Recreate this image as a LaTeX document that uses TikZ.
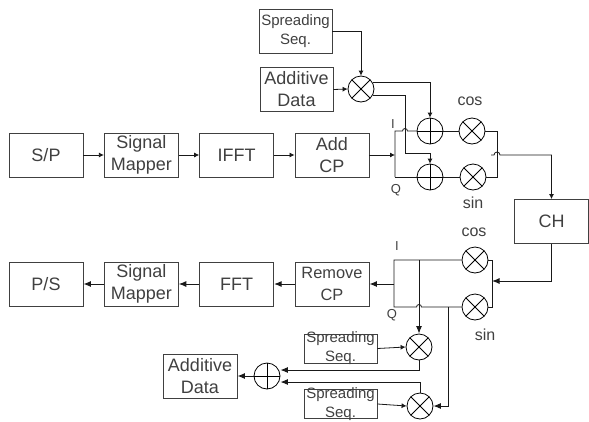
\documentclass[tikz,border=0pt]{standalone}
\usepackage{fontspec}
\setmainfont{Liberation Sans}
\usetikzlibrary{arrows.meta}
\begin{document}
\begin{tikzpicture}[x=1pt,y=-1pt,node distance=95.33pt,line width=0.8pt,color=black!90]
 \tikzstyle{block}=[draw=black!75, text=black!75, line width=0.9pt, minimum width=74pt, minimum height=44pt, inner sep=0pt, align=center, font={\fontsize{18}{22}\selectfont}]
 \tikzstyle{spread}=[block, minimum width=73pt, font={\fontsize{15}{19}\selectfont}]
 \tikzstyle{thin box}=[spread, minimum height=29pt, inner ysep=-5pt]
 \tikzstyle{mult}=[draw=black, circle, minimum size=26pt, inner sep=0pt, path picture={\draw[black] (path picture bounding box.north west) -- (path picture bounding box.south east) (path picture bounding box.north east) -- (path picture bounding box.south west);}]
 \tikzstyle{adder}=[draw=black, circle, minimum size=26pt, inner sep=0pt, path picture={\draw[black] (path picture bounding box.north) -- (path picture bounding box.south) (path picture bounding box.west) -- (path picture bounding box.east);}]
 \tikzstyle{txt}=[text=black!75, inner sep=0pt, font={\fontsize{16}{19}\selectfont}]
 \tikzstyle{small}=[txt, font={\fontsize{13}{15}\selectfont}]
 \tikzstyle{arr}=[-{Latex[length=5pt,width=5pt]}]
 \tikzstyle{bigarr}=[-{Latex[length=7.5pt,width=6pt]}, line width=1pt]
 \useasboundingbox (0,0) rectangle (589,421);

 \node[block] (sp) at (46,155) {S/P};
 \node[block] (map1) [right of=sp] {Signal\\Mapper};
 \node[block] (ifft) [right of=map1] {IFFT};
 \node[block] (addcp) [right of=ifft] {Add\\CP};
 \node[spread] (ss1) at (295.5,31) {Spreading\\Seq.};
 \node[block, minimum width=73pt] (ad1) at (296.5,89.5) {Additive\\Data};
 \node[mult] (m1) at (361,89) {};
 \node[adder] (pi) at (430,131) {};
 \node[adder] (pq) at (430,177) {};
 \node[mult] (mc) at (472,131) {};
 \node[mult] (ms) at (473,177) {};
 \node[block] (ch) at (551.5,221.5) {CH};

 \node[block] (ps) at (46,284) {P/S};
 \node[block] (map2) [right of=ps] {Signal\\Mapper};
 \node[block] (fft) [right of=map2] {FFT};
 \node[block, font={\fontsize{16.4}{22}\selectfont}] (rmcp) [right of=fft] {Remove\\CP};
 \node[mult] (rc) at (475,260) {};
 \node[mult] (rs) at (475,307) {};
 \node[mult] (m2) at (419,347) {};
 \node[mult] (m3) at (420,406) {};
 \node[thin box] (ss2) at (340.5,348.5) {Spreading\\Seq.};
 \node[thin box] (ss3) at (340.5,404) {Spreading\\Seq.};
 \node[adder] (pr) at (267,376) {};
 \node[block] (ad2) at (200,376) {Additive\\Data};

 \node[small] (li) at (393,124) {I};
 \node[small] (lq) at (396,190) {Q};
 \node[txt] (lc) at (470,101) {cos};
 \node[txt] (ls) at (473,203) {sin};
 \node[small] (lri) at (397,246) {I};
 \node[small] (lrq) at (392,315) {Q};
 \node[txt] (lrc) at (474,232) {cos};
 \node[txt] (lrs) at (485,335) {sin};

 \coordinate (iq) at (395,155);
 \coordinate (it) at (395,131);
 \coordinate (ib) at (395,177);
 \coordinate (ot) at (497,131);
 \coordinate (ob) at (497,177);
 \coordinate (oh) at (491,155);
 \coordinate (tap) at (405,153);
 \coordinate (rin) at (492,281);
 \coordinate (rt) at (492,260);
 \coordinate (rb) at (492,307);
 \coordinate (lt) at (394,260);
 \coordinate (lb) at (394,307);
 \coordinate (lm) at (394,284);
 \coordinate (dt) at (419,260);
 \coordinate (db) at (448,307);
 \coordinate (e2) at (419,370);
 \coordinate (e3) at (420,382);

 \draw[arr] (sp) to (map1);
 \draw[arr] (map1) to (ifft);
 \draw[arr] (ifft) to (addcp);
 \draw[arr] (addcp) to (iq);
 \draw[arr] (ss1.east) -| (m1.north);
 \draw[arr] (ad1.east) to (m1.west);
 \draw[arr] (m1.30) -| (pi.north);
 \draw[arr] (m1.-30) -| (tap) -| (pq.north);
 \draw (ib) -- (it) -- (402.5,131) arc (180:0:2.5pt) -- (pi.west);
 \draw (ib) -- (pq.west);
 \draw (pi) to (mc);
 \draw (pq) to (ms);
 \draw (mc) -- (ot) -- (ob) -- (ms);
 \draw[arr] (oh) -- (494,155) arc (180:0:3pt) -| (ch.north);

 \draw[bigarr] (ch.south) |- (rin);
 \draw (rc.east) -- (rt) -- (rb) -- (rs.east);
 \draw (rc.west) -- (lt) -- (lb) -- (416.5,307) arc (180:0:2.5pt) -- (rs.west);
 \draw[bigarr] (lm) -- (rmcp.east |- lm);
 \draw[bigarr] (rmcp) to (fft);
 \draw[bigarr] (fft) to (map2);
 \draw[bigarr] (map2) to (ps);
 \draw[bigarr] (dt) -- (m2.north);
 \draw[bigarr] (db) |- (m3.east);
 \draw[arr] (ss2.east) -- (m2.west);
 \draw[arr] (ss3.east) -- (m3.west);
 \draw[bigarr] (m2.south) -- (e2) -- (pr.east |- e2);
 \draw[bigarr] (m3.north) -- (e3) -- (pr.east |- e3);
 \draw[bigarr] (pr) to (ad2);
\end{tikzpicture}
\end{document}
